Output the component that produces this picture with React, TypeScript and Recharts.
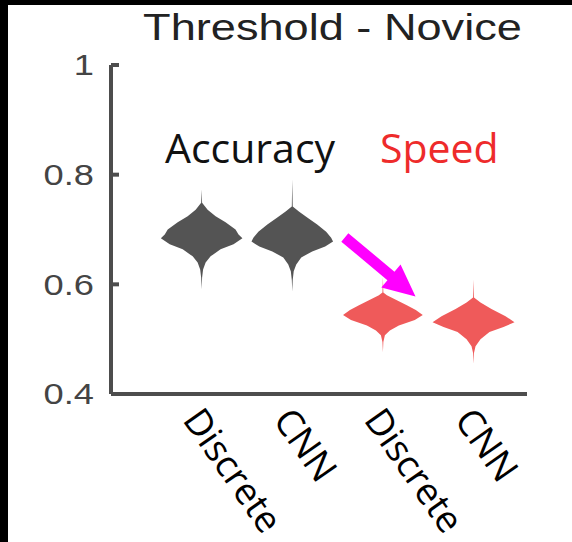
import { ComposedChart, Area, XAxis, YAxis, ReferenceLine } from 'recharts';

// x positions of the four groups and their labels
const categories = ['Discrete', 'CNN', 'Discrete', 'CNN'];
const positions = [1, 2, 3, 4];
const yTicks = [0.4, 0.6, 0.8, 1];

// density outlines: threshold levels (top to bottom) and half-widths at each level
const accDiscreteLevels = [0.773, 0.749, 0.736, 0.724, 0.713, 0.7, 0.691, 0.684, 0.673, 0.664, 0.651, 0.64, 0.627, 0.612, 0.591];
const accDiscreteWidths = [0, 0.005, 0.066, 0.154, 0.264, 0.374, 0.407, 0.45, 0.352, 0.209, 0.099, 0.044, 0.016, 0.005, 0];

const accCnnLevels = [0.791, 0.742, 0.733, 0.722, 0.709, 0.696, 0.685, 0.678, 0.669, 0.66, 0.649, 0.636, 0.624, 0.608, 0.587];
const accCnnWidths = [0, 0.005, 0.073, 0.165, 0.275, 0.374, 0.429, 0.45, 0.363, 0.22, 0.099, 0.044, 0.016, 0.005, 0];

const spdDiscreteLevels = [0.613, 0.585, 0.58, 0.571, 0.562, 0.553, 0.544, 0.535, 0.525, 0.516, 0.507, 0.495, 0.476];
const spdDiscreteWidths = [0, 0.005, 0.044, 0.154, 0.264, 0.363, 0.44, 0.352, 0.176, 0.077, 0.022, 0.005, 0];

const spdCnnLevels = [0.609, 0.576, 0.567, 0.555, 0.542, 0.531, 0.522, 0.513, 0.5, 0.487, 0.475, 0.455];
const spdCnnWidths = [0, 0.005, 0.077, 0.198, 0.353, 0.452, 0.331, 0.176, 0.077, 0.022, 0.005, 0];

const GRAY = '#545454';
const RED = '#ef5a5a';
const AXIS = '#4d4d4d';

const violins = [
  { key: 'accDiscrete', pos: positions[0], levels: accDiscreteLevels, widths: accDiscreteWidths, color: GRAY },
  { key: 'accCnn', pos: positions[1], levels: accCnnLevels, widths: accCnnWidths, color: GRAY },
  { key: 'spdDiscrete', pos: positions[2], levels: spdDiscreteLevels, widths: spdDiscreteWidths, color: RED },
  { key: 'spdCnn', pos: positions[3], levels: spdCnnLevels, widths: spdCnnWidths, color: RED },
];

const toRows = (pos: number, levels: number[], widths: number[]) =>
  levels.map((v, i) => ({ v, r: [pos - widths[i], pos + widths[i]] }));

const YTick = (props: any) => {
  const { x, y, payload } = props;
  const label = payload.value === 1 ? '1' : payload.value.toFixed(1);
  return (
    <g>
      <line x1={x + 17} x2={x + 25} y1={y} y2={y} stroke={AXIS} strokeWidth={4} />
      <text
        transform={`translate(${x},${y}) scale(1.25,1)`}
        textAnchor="end"
        dy="0.36em"
        fontSize={29}
        fontFamily="'Liberation Sans', Arial, sans-serif"
        fill="#444"
      >
        {label}
      </text>
    </g>
  );
};

const XTick = (props: any) => {
  const { x, y, payload } = props;
  const idx = positions.indexOf(payload.value);
  return (
    <text
      transform={`translate(${x - 20},${y + 26}) rotate(55)`}
      textAnchor="start"
      fontSize={37}
      fontFamily="'Open Sans', sans-serif"
      fill="#000"
    >
      {categories[idx]}
    </text>
  );
};

// thick arrow between the two speed violins
const Arrow = (props: any) => {
  const { x1, y1, x2, y2 } = props;
  const dx = x2 - x1;
  const dy = y2 - y1;
  const len = Math.sqrt(dx * dx + dy * dy);
  const ux = dx / len;
  const uy = dy / len;
  const nx = -uy;
  const ny = ux;
  const head = 32;
  const hw = 15;
  const sw = 5.5;
  const bx = x2 - ux * head;
  const by = y2 - uy * head;
  const pts = [
    [x1 + nx * sw, y1 + ny * sw],
    [bx + nx * sw, by + ny * sw],
    [bx + nx * hw, by + ny * hw],
    [x2, y2],
    [bx - nx * hw, by - ny * hw],
    [bx - nx * sw, by - ny * sw],
    [x1 - nx * sw, y1 - ny * sw],
  ];
  return <polygon points={pts.map((p) => p.join(',')).join(' ')} fill="#ff00ff" />;
};

export default function App() {
  return (
    <div style={{ position: 'absolute', left: 0, top: 0, width: 572, height: 542, background: '#fff' }}>
      <ComposedChart
        width={572}
        height={542}
        layout="vertical"
        margin={{ top: 65, right: 45, bottom: 88, left: 51 }}
      >
        <XAxis
          type="number"
          domain={[0, 4.59]}
          allowDataOverflow
          ticks={positions}
          interval={0}
          height={60}
          tickLine={false}
          tickSize={0}
          tickMargin={0}
          axisLine={{ stroke: AXIS, strokeWidth: 4 }}
          tick={<XTick />}
        />
        <YAxis
          type="number"
          dataKey="v"
          domain={[0.4, 1]}
          allowDataOverflow
          reversed
          ticks={yTicks}
          interval={0}
          width={60}
          tickLine={false}
          tickSize={0}
          tickMargin={17}
          axisLine={{ stroke: AXIS, strokeWidth: 4 }}
          tick={<YTick />}
        />
        {violins.map((vl) => (
          <Area
            key={vl.key}
            data={toRows(vl.pos, vl.levels, vl.widths)}
            dataKey="r"
            type="linear"
            fill={vl.color}
            fillOpacity={1}
            stroke="none"
            dot={false}
            activeDot={false}
            isAnimationActive={false}
          />
        ))}
        <ReferenceLine
          segment={[
            { x: 2.58, y: 0.6855 },
            { x: 3.36, y: 0.578 },
          ]}
          shape={<Arrow />}
        />
      </ComposedChart>
      <svg
        width={572}
        height={542}
        style={{ position: 'absolute', left: 0, top: 0, pointerEvents: 'none' }}
      >
        <text
          transform="translate(332.5,40) scale(1.22,1)"
          textAnchor="middle"
          fontSize={37}
          fontFamily="'Liberation Sans', Arial, sans-serif"
          fill="#222"
        >
          Threshold - Novice
        </text>
        <text x={165} y={163} fontSize={41} fontFamily="'Open Sans', sans-serif" fill="#111">
          Accuracy
        </text>
        <text x={380} y={163} fontSize={41} fontFamily="'Open Sans', sans-serif" fill="#ee2b2b">
          Speed
        </text>
      </svg>
      <div style={{ position: 'absolute', left: 0, top: 0, width: 572, height: 5, background: '#000' }} />
      <div style={{ position: 'absolute', left: 0, top: 0, width: 8, height: 542, background: '#000' }} />
    </div>
  );
}
